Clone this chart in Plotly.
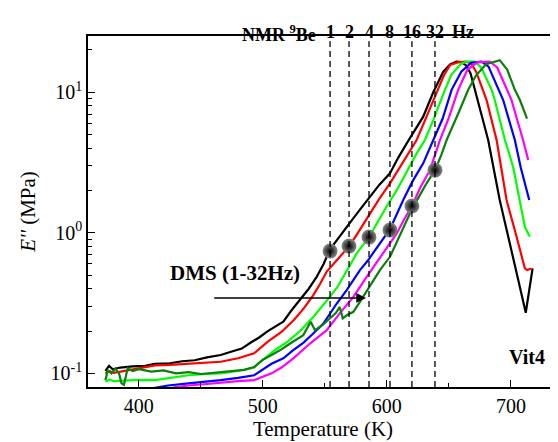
import math
import plotly.graph_objects as go

# loss modulus E'' (MPa) vs temperature (K), DMS at 1..32 Hz
T_black = [373, 376, 379, 385, 395, 405, 413, 425, 435, 445, 455, 466, 475, 483, 490, 497, 504, 510,
           516.5, 523, 530, 537, 543.4, 549, 554, 562, 570, 578, 586, 594, 602.5, 609, 616, 622, 629.3,
           637.4, 645.5, 651, 656, 660, 664, 667.5, 671, 673.6, 681.7, 691, 700, 706, 712, 717.5]
E_black = [0.104, 0.113, 0.107, 0.110, 0.112, 0.113, 0.117, 0.118, 0.122, 0.124, 0.130, 0.135, 0.143,
           0.150, 0.165, 0.180, 0.200, 0.215, 0.233, 0.280, 0.332, 0.400, 0.486, 0.60, 0.76, 0.95, 1.17,
           1.45, 1.80, 2.20, 2.65, 3.40, 4.33, 5.30, 6.70, 10.0, 14.0, 15.8, 16.5, 16.4, 15.5, 13.6, 10.4,
           8.8, 4.57, 1.71, 0.80, 0.46, 0.27, 0.558]

T_red = [373, 376, 380, 390, 400, 413, 425, 440, 455, 466, 480, 493, 504, 515, 525, 533, 540.7, 546,
         551.5, 557, 562, 569.5, 576, 586, 594, 602.5, 610, 618.6, 624, 632, 641.4, 646, 651, 657, 664,
         668, 672, 677.7, 680.4, 688.5, 696.5, 704, 711.3, 713.1, 716.7]
E_red = [0.100, 0.104, 0.101, 0.105, 0.108, 0.114, 0.115, 0.117, 0.119, 0.121, 0.128, 0.139, 0.168,
         0.197, 0.240, 0.290, 0.360, 0.430, 0.530, 0.600, 0.675, 0.80, 0.98, 1.37, 1.75, 2.25, 2.90,
         3.88, 4.57, 6.70, 10.4, 13.2, 15.6, 16.3, 16.5, 16.0, 14.0, 10.4, 8.8, 4.57, 1.71, 0.98, 0.558,
         0.543, 0.557]

T_lime = [373, 376, 380, 390, 400, 413, 425, 440, 455, 466, 480, 493, 500, 509.6, 520, 530, 540.7, 548,
          554, 560, 565, 570, 575.7, 585.6, 591.8, 600, 608, 616, 624, 630.7, 637.4, 646.8, 652, 660,
          665, 671, 676, 684.5, 687, 695.2, 701.8, 711.3, 715.3]
E_lime = [0.087, 0.090, 0.088, 0.089, 0.090, 0.0895, 0.093, 0.097, 0.099, 0.100, 0.104, 0.110, 0.125,
          0.146, 0.168, 0.200, 0.252, 0.300, 0.350, 0.410, 0.486, 0.580, 0.713, 0.93, 1.17, 1.55, 2.01,
          2.70, 3.67, 4.57, 6.34, 10.4, 13.3, 16.0, 16.5, 16.5, 15.0, 10.4, 8.8, 4.57, 2.95, 1.10, 0.937]

T_blue = [373, 390, 410, 423.6, 440, 455, 466, 480, 493, 507, 516.5, 524, 532.6, 540, 548.8, 559.6,
          567.6, 578.3, 585, 589, 597, 602.5, 613.2, 621, 629.3, 637.4, 645, 652.2, 660, 668, 676.4,
          682, 689.8, 693.8, 703.2, 708, 714.8]
E_blue = [0.077, 0.076, 0.078, 0.082, 0.085, 0.087, 0.0895, 0.093, 0.097, 0.117, 0.128, 0.145, 0.165,
          0.190, 0.226, 0.314, 0.391, 0.543, 0.64, 0.72, 0.90, 1.06, 1.71, 2.35, 3.12, 4.57, 6.5, 10.4,
          14.0, 16.2, 16.5, 15.2, 10.4, 8.8, 4.57, 2.9, 1.71]

T_magenta = [373, 400, 420, 430, 440, 455, 466, 480, 493, 507, 515, 524.6, 538, 551.5, 562, 573, 583.7,
             595.8, 608, 614, 620.2, 627, 634.7, 642.8, 650, 657.5, 665, 673, 683, 689, 696.5, 700.5,
             709.8, 714]
E_magenta = [0.072, 0.074, 0.076, 0.080, 0.082, 0.084, 0.086, 0.088, 0.0895, 0.100, 0.110, 0.128, 0.163,
             0.203, 0.267, 0.350, 0.486, 0.69, 0.99, 1.25, 1.55, 2.10, 2.79, 4.57, 6.6, 10.4, 14.5, 16.3,
             16.5, 15.0, 10.4, 8.8, 4.57, 3.29]

T_dgreen = [373, 375, 378, 381, 384, 386, 388, 391, 395, 400, 410, 420, 430, 440, 450, 460, 466, 475, 485,
            493, 500, 507, 515, 522, 532.6, 538.6, 542, 548, 554, 559, 562, 564.4, 568, 573, 578, 582.4,
            588, 594.4, 602.5, 610, 618.6, 625, 632, 638.8, 644, 648.2, 652, 658, 665.6, 672, 680, 691,
            697, 703.2, 707.3, 713]
E_dgreen = [0.0895, 0.105, 0.100, 0.108, 0.100, 0.085, 0.083, 0.109, 0.104, 0.107, 0.103, 0.105, 0.100,
            0.102, 0.099, 0.101, 0.102, 0.104, 0.106, 0.111, 0.125, 0.135, 0.148, 0.163, 0.187, 0.233,
            0.203, 0.220, 0.246, 0.270, 0.297, 0.246, 0.260, 0.274, 0.320, 0.370, 0.440, 0.543, 0.675,
            0.95, 1.37, 1.75, 2.25, 2.79, 3.6, 4.57, 5.4, 7.2, 10.4, 13.2, 15.8, 16.9, 14.5, 10.4, 8.8, 6.5]

# NMR 9Be points and their frequencies
nmr_T = [554.2, 569.5, 585.6, 602.5, 620.2, 638.8]
nmr_E = [0.741, 0.804, 0.932, 1.045, 1.55, 2.79]
nmr_labels = ["1", "2", "4", "8", "16", "32"]

series = [
    (T_black, E_black, "black"),
    (T_red, E_red, "#ff0000"),
    (T_lime, E_lime, "#00ff00"),
    (T_blue, E_blue, "#0000ff"),
    (T_magenta, E_magenta, "#ff00ff"),
    (T_dgreen, E_dgreen, "#0a800a"),
]

FONT = "Liberation Serif"

fig = go.Figure()
for T, E, c in series:
    fig.add_trace(go.Scatter(x=T, y=E, mode="lines", line=dict(color=c, width=2.2),
                             showlegend=False, hoverinfo="skip"))

# shaded spheres
fig.add_trace(go.Scatter(x=nmr_T, y=nmr_E, mode="markers", showlegend=False, hoverinfo="skip",
                         marker=dict(size=15, color="#8a8a8a",
                                     gradient=dict(type="radial", color="#000000"),
                                     line=dict(width=0))))

# dashed NMR frequency lines
for t in nmr_T:
    fig.add_shape(type="line", x0=t, x1=t, xref="x", y0=0, y1=0.985, yref="paper",
                  line=dict(color="black", width=1.3, dash="6px,4px"))

top_y = 1.046
ann = [dict(x=513, y=top_y, xref="x", yref="paper", text="<b>NMR <sup>9</sup>Be</b>",
            showarrow=False, font=dict(family=FONT, size=18, color="black"))]
for t, lab in zip(nmr_T, nmr_labels):
    ann.append(dict(x=t, y=top_y, xref="x", yref="paper", text="<b>%s</b>" % lab,
                    showarrow=False, font=dict(family=FONT, size=18, color="black")))
ann.append(dict(x=661.3, y=top_y, xref="x", yref="paper", text="<b>Hz</b>",
                showarrow=False, font=dict(family=FONT, size=18, color="black")))

ann.append(dict(x=477.7, y=math.log10(0.516), xref="x", yref="y", text="<b>DMS (1-32Hz)</b>",
                showarrow=False, font=dict(family=FONT, size=21, color="black")))
ann.append(dict(x=583.2, y=math.log10(0.344), xref="x", yref="y",
                ax=459.6, ay=math.log10(0.344), axref="x", ayref="y", text="",
                showarrow=True, arrowhead=2, arrowsize=1.3, arrowwidth=1.5,
                arrowcolor="black", standoff=0))
ann.append(dict(x=712.6, y=math.log10(0.131), xref="x", yref="y", text="<b>Vit4</b>",
                showarrow=False, font=dict(family=FONT, size=20, color="black")))

# page body adds an 8px margin, so the figure is 8px smaller and shifted
fig.update_layout(
    width=550, height=434,
    margin=dict(l=80, r=0, t=28, b=55),
    plot_bgcolor="white", paper_bgcolor="white",
    font=dict(family=FONT, size=20, color="black"),
    annotations=ann,
)

fig.update_xaxes(range=[359, 738], showgrid=False, zeroline=False,
                 showline=True, linecolor="black", linewidth=1.5, mirror=True,
                 ticks="inside", ticklen=7, tickwidth=1.2, tickcolor="black",
                 tickvals=[400, 500, 600, 700],
                 minor=dict(ticks="inside", ticklen=4, tickcolor="black", tickvals=[450, 550, 650]),
                 tickfont=dict(family=FONT, size=20),
                 title=dict(text="Temperature (K)", font=dict(family=FONT, size=21), standoff=4))

fig.update_yaxes(type="log", range=[-1.097, 1.40], showgrid=False, zeroline=False,
                 showline=True, linecolor="black", linewidth=1.5, mirror=False,
                 ticks="inside", ticklen=7, tickwidth=1.2, tickcolor="black",
                 tickvals=[0.1, 1, 10],
                 ticktext=["10<sup>-1</sup>", "10<sup>0</sup>", "10<sup>1</sup>"],
                 minor=dict(ticks="inside", ticklen=4, tickcolor="black",
                            tickvals=[0.2, 0.3, 0.4, 0.5, 0.6, 0.7, 0.8, 0.9,
                                      2, 3, 4, 5, 6, 7, 8, 9, 20]),
                 tickfont=dict(family=FONT, size=20),
                 title=dict(text="<i>E''</i> (MPa)", font=dict(family=FONT, size=21), standoff=9))

fig.write_html("out.html")
